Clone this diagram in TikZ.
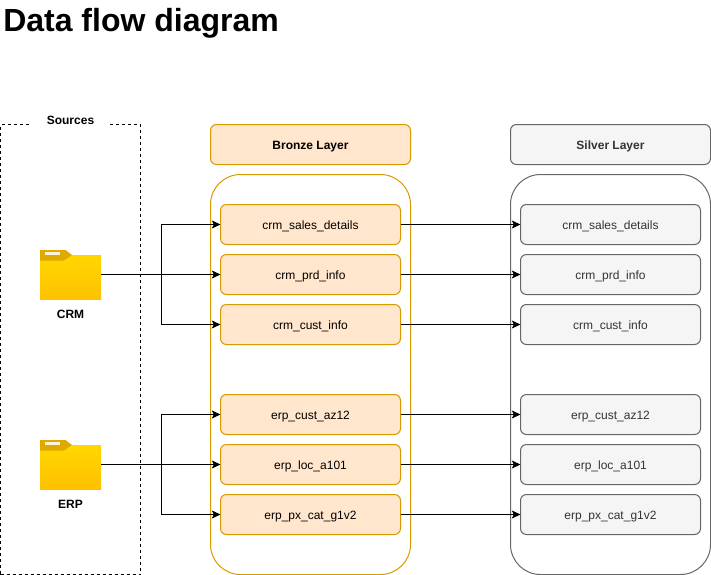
\documentclass[tikz,border=0pt]{standalone}
\usepackage{fontspec}
\setmainfont{Liberation Sans}
\usetikzlibrary{arrows.meta}
\usetikzlibrary{positioning}

\definecolor{bronzefill}{HTML}{FFE6CC}
\definecolor{bronzeline}{HTML}{D79B00}
\definecolor{silverfill}{HTML}{F5F5F5}
\definecolor{silverline}{HTML}{666666}
\definecolor{silvertext}{HTML}{333333}
\definecolor{foldertop}{HTML}{FFD700}
\definecolor{folderbottom}{HTML}{FFC000}
\definecolor{foldertab}{HTML}{E0A800}

\tikzset{
  box/.style={rectangle,draw,line width=.75pt,inner sep=0pt,outer sep=0pt,text height=7.5pt,text depth=.7pt,font=\fontsize{9}{11}\selectfont},
  bronze/.style={box,draw=bronzeline,fill=bronzefill,text=black},
  silver/.style={box,draw=silverline,fill=silverfill,text=silvertext},
  rowbox/.style={minimum width=135pt,minimum height=30pt,rounded corners=4.5pt},
  headbox/.style={minimum width=150pt,minimum height=30pt,rounded corners=4.5pt,font=\fontsize{9}{11}\selectfont\bfseries},
  layerbox/.style={rectangle,line width=.75pt,inner sep=0pt,outer sep=0pt,minimum width=150pt,minimum height=300pt,rounded corners=22.5pt},
  flow/.style={line width=.75pt,-{Stealth[length=6.5pt,width=6pt,inset=1.5pt]}},
  link/.style={line width=.75pt},
  folder/.style={inner sep=0pt,outer sep=0pt,minimum width=45.75pt,minimum height=36.75pt},
  sourcelabel/.style={inner sep=0pt,font=\fontsize{9}{11}\selectfont\bfseries}
}

\begin{document}
\begin{tikzpicture}[x=.75pt,y=-.75pt]
    \useasboundingbox (0,0) rectangle (711,575);
    \node[anchor=base west,inner sep=0pt,font=\fontsize{24}{28}\selectfont\bfseries] (title) at (3,31) {Data flow diagram};

    % sources
    \node[rectangle,draw,dash pattern=on 2.25pt off 2.25pt,line width=.75pt,inner sep=0pt,minimum width=105pt,minimum height=337.5pt] (sources) at (70.5,349.5) {};
    \node[fill=white,inner sep=0pt,minimum width=59pt,minimum height=13pt,font=\fontsize{9}{11}\selectfont\bfseries] (sourcestitle) at (70.5,120) {Sources};

    % layers
    \node[bronze,headbox] (bronzehead) at (310.5,144.5) {Bronze Layer};
    \node[silver,headbox] (silverhead) at (610.5,144.5) {Silver Layer};
    \node[layerbox,draw=bronzeline] (bronzelayer) at (310.5,374.5) {};
    \node[layerbox,draw=silverline] (silverlayer) at (610.5,374.5) {};

    % folders
    \foreach \src/\srctext/\srcy in {crm/CRM/274.5,erp/ERP/464.5}
    {
      \node[folder] (\src) at (70.5,\srcy) {};
      \shade[top color=foldertop,bottom color=folderbottom] (40,\srcy-19.5) rectangle (101,\srcy+24.5);
      \fill[foldertab] (40,\srcy-24.5) -- (65.5,\srcy-24.5) -- (72,\srcy-19.5) -- (64,\srcy-14) -- (40,\srcy-14) -- cycle;
      \fill[white!85!foldertab] (45,\srcy-22.5) rectangle (59.5,\srcy-19.5);
      \node[sourcelabel,below=8.2pt of \src] (\src label) {\srctext};
    }

    % tables
    \foreach \tbl/\tbltext/\tbly in {sales/crm\_sales\_details/224.5,prd/crm\_prd\_info/274.5,cust/crm\_cust\_info/324.5,
      az/erp\_cust\_az12/414.5,loc/erp\_loc\_a101/464.5,cat/erp\_px\_cat\_g1v2/514.5}
    {
      \node[bronze,rowbox] (b\tbl) at (310.5,\tbly) {\tbltext};
      \node[silver,rowbox] (s\tbl) at (610.5,\tbly) {\tbltext};
      \draw[flow] (b\tbl) -- (s\tbl);
    }

    % from the sources
    \coordinate (crmjoin) at (161,274.5);
    \coordinate (erpjoin) at (161,464.5);
    \draw[link] (crm.east) -- (crmjoin);
    \draw[link] (erp.east) -- (erpjoin);
    \draw[flow] (crmjoin) |- (bsales);
    \draw[flow] (crmjoin) -- (bprd);
    \draw[flow] (crmjoin) |- (bcust);
    \draw[flow] (erpjoin) |- (baz);
    \draw[flow] (erpjoin) -- (bloc);
    \draw[flow] (erpjoin) |- (bcat);
\end{tikzpicture}
\end{document}
